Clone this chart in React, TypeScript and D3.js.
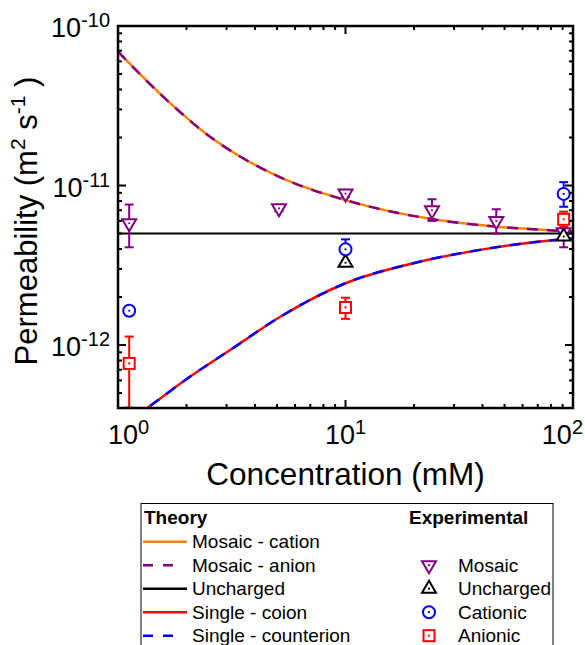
import * as d3 from "d3";
import React from "react";

// theory curves
const mosaicConc = [1, 1.64, 2.54, 3.44, 5.52, 10, 24.3, 46.2, 90.6, 100];
const mosaicTheory = [6.9e-11, 3.43e-11, 2.02e-11, 1.52e-11, 1.08e-11, 8.1e-12, 6.14e-12, 5.52e-12, 5.19e-12, 5.15e-12];
const singleConc = [1, 1.337, 2.07, 3.11, 5.15, 10, 19.9, 39, 90.6, 100];
const singleTheory = [2.96e-13, 4.0e-13, 6.32e-13, 9.3e-13, 1.5e-12, 2.44e-12, 3.26e-12, 3.95e-12, 4.6e-12, 4.65e-12];
const unchargedConc = [1, 100];
const unchargedTheory = [5e-12, 5e-12];

// experimental points
const mosaicExpConc = [1.12, 5.1, 10, 24, 46, 91];
const mosaicExp = [5.8e-12, 7.2e-12, 8.9e-12, 7.0e-12, 6.0e-12, 5.1e-12];
const mosaicLo = [4.1e-12, 6.9e-12, 8.5e-12, 6.0e-12, 5.0e-12, 4.1e-12];
const mosaicHi = [7.6e-12, 7.5e-12, 9.3e-12, 8.2e-12, 7.1e-12, 6.3e-12];

const unchargedExpConc = [10, 91];
const unchargedExp = [3.28e-12, 4.79e-12];
const unchargedLo = [3.2e-12, 4.7e-12];
const unchargedHi = [3.36e-12, 4.9e-12];

const cationicConc = [1.12, 10, 91];
const cationicExp = [1.64e-12, 3.98e-12, 8.86e-12];
const cationicLo = [1.6e-12, 3.8e-12, 7.36e-12];
const cationicHi = [1.7e-12, 4.6e-12, 1.05e-11];

const anionicConc = [1.12, 10, 91];
const anionicExp = [7.67e-13, 1.72e-12, 6.14e-12];
const anionicLo = [4.05e-13, 1.46e-12, 5.5e-12];
const anionicHi = [1.13e-12, 1.98e-12, 6.86e-12];

const xMajor = [1, 10, 100];
const xTickExp = ["0", "1", "2"];
const yMajor = [1e-10, 1e-11, 1e-12];
const yTickExp = ["-10", "-11", "-12"];

const theoryNames = ["Mosaic - cation", "Mosaic - anion", "Uncharged", "Single - coion", "Single - counterion"];
const theoryColors = ["#FF8000", "#800080", "#000000", "#FF0000", "#0000FF"];
const theoryDashed = [false, true, false, false, true];
const expNames = ["Mosaic", "Uncharged", "Cationic", "Anionic"];
const expColors = ["#800080", "#000000", "#0000FF", "#FF0000"];
const expShapes = ["down", "up", "circle", "square"];

const FONT = "'Liberation Sans', Arial, Helvetica, sans-serif";

function Marker({ shape, cx, cy, color }) {
  let el;
  if (shape === "down") {
    el = <polygon points={`${cx - 7},${cy - 4} ${cx + 7},${cy - 4} ${cx},${cy + 8}`} />;
  } else if (shape === "up") {
    el = <polygon points={`${cx - 7},${cy + 4} ${cx + 7},${cy + 4} ${cx},${cy - 8}`} />;
  } else if (shape === "circle") {
    el = <circle cx={cx} cy={cy} r={6} />;
  } else {
    el = <rect x={cx - 5.5} y={cy - 5.5} width={11} height={11} />;
  }
  return (
    <g stroke={color} strokeWidth={2} fill="white">
      {el}
      <circle cx={cx} cy={cy} r={1.1} fill={color} stroke="none" />
    </g>
  );
}

export default function App() {
  const left = 118, right = 573, top = 26, bottom = 408;
  const x = d3.scaleLog().domain([1, 100]).range([left, right]);
  const y = d3.scaleLog().domain([4.03e-13, 1e-10]).range([bottom, top]);

  const line = (cs, vs) =>
    d3.line().x((d) => x(d[0])).y((d) => y(d[1])).curve(d3.curveMonotoneX)(cs.map((c, i) => [c, vs[i]]));

  const isMajor = (v) => Math.abs(Math.log10(v) - Math.round(Math.log10(v))) < 1e-6;
  const xTicks = x.ticks();
  const yTicks = y.ticks();

  const series = [
    { conc: mosaicExpConc, val: mosaicExp, lo: mosaicLo, hi: mosaicHi, shape: "down", color: "#800080" },
    { conc: unchargedExpConc, val: unchargedExp, lo: unchargedLo, hi: unchargedHi, shape: "up", color: "#000000" },
    { conc: cationicConc, val: cationicExp, lo: cationicLo, hi: cationicHi, shape: "circle", color: "#0000FF" },
    { conc: anionicConc, val: anionicExp, lo: anionicLo, hi: anionicHi, shape: "square", color: "#FF0000" },
  ];

  const rowY = (i) => 541.7 + i * 23.5;

  return (
    <svg width={585} height={645} style={{ position: "absolute", left: 0, top: 0, background: "white" }} fontFamily={FONT}>
      <defs>
        <clipPath id="plotclip">
          <rect x={left} y={top} width={right - left} height={bottom - top} />
        </clipPath>
      </defs>

      <g clipPath="url(#plotclip)" fill="none" strokeWidth={2.5}>
        <path d={line(mosaicConc, mosaicTheory)} stroke="#FF8000" />
        <path d={line(mosaicConc, mosaicTheory)} stroke="#800080" strokeDasharray="11 9" />
        <path d={line(unchargedConc, unchargedTheory)} stroke="#000000" strokeWidth={2} />
        <path d={line(singleConc, singleTheory)} stroke="#FF0000" />
        <path d={line(singleConc, singleTheory)} stroke="#0000FF" strokeDasharray="11 9" />
      </g>

      {series.map((s, si) => (
        <g key={si}>
          {s.conc.map((c, i) => (
            <g key={i} stroke={s.color} strokeWidth={2}>
              <line x1={x(c)} x2={x(c)} y1={y(s.lo[i])} y2={y(s.hi[i])} />
              <line x1={x(c) - 4.5} x2={x(c) + 4.5} y1={y(s.lo[i])} y2={y(s.lo[i])} />
              <line x1={x(c) - 4.5} x2={x(c) + 4.5} y1={y(s.hi[i])} y2={y(s.hi[i])} />
            </g>
          ))}
          {s.conc.map((c, i) => (
            <Marker key={"m" + i} shape={s.shape} cx={x(c)} cy={y(s.val[i])} color={s.color} />
          ))}
        </g>
      ))}

      {/* ticks, all four sides, inward */}
      <g stroke="black" strokeWidth={2}>
        {xTicks.map((t, i) => {
          const len = isMajor(t) ? 8 : 4;
          return (
            <g key={i}>
              <line x1={x(t)} x2={x(t)} y1={bottom} y2={bottom - len} />
              <line x1={x(t)} x2={x(t)} y1={top} y2={top + len} />
            </g>
          );
        })}
        {yTicks.map((t, i) => {
          const len = isMajor(t) ? 8 : 4;
          return (
            <g key={i}>
              <line x1={left} x2={left + len} y1={y(t)} y2={y(t)} />
              <line x1={right} x2={right - len} y1={y(t)} y2={y(t)} />
            </g>
          );
        })}
      </g>
      <rect x={left} y={top} width={right - left} height={bottom - top} fill="none" stroke="black" strokeWidth={2.5} />

      {/* tick labels */}
      {xMajor.map((v, i) => {
        const anchor = i === 0 ? "start" : i === xMajor.length - 1 ? "end" : "middle";
        const xx = i === 0 ? x(v) - 10 : i === xMajor.length - 1 ? x(v) + 10 : x(v);
        return (
          <text key={i} x={xx} y={444} fontSize={27} textAnchor={anchor}>
            10<tspan dy={-10} fontSize={20}>{xTickExp[i]}</tspan>
          </text>
        );
      })}
      {yMajor.map((v, i) => (
        <text key={i} x={110} y={y(v) + 11} fontSize={27} textAnchor="end">
          10<tspan dy={-10} fontSize={20}>{yTickExp[i]}</tspan>
        </text>
      ))}

      {/* axis titles */}
      <text x={345.5} y={485} fontSize={31.5} textAnchor="middle">Concentration (mM)</text>
      <text transform="rotate(-90)" x={-221} y={37} fontSize={31} textAnchor="middle">
        Permeability (m<tspan dy={-12} fontSize={21}>2</tspan>
        <tspan dy={12}> s</tspan>
        <tspan dy={-12} fontSize={21}>-1</tspan>
        <tspan dy={12}> )</tspan>
      </text>

      {/* legend */}
      <rect x={141} y={503.5} width={412} height={170} fill="white" stroke="black" strokeWidth={1} />
      <text x={144} y={524} fontSize={19} fontWeight="bold">Theory</text>
      <text x={409} y={524} fontSize={19} fontWeight="bold">Experimental</text>
      {theoryNames.map((n, i) => (
        <g key={i}>
          <line
            x1={143}
            x2={theoryDashed[i] ? 176 : 187}
            y1={rowY(i)}
            y2={rowY(i)}
            stroke={theoryColors[i]}
            strokeWidth={2.5}
            strokeDasharray={theoryDashed[i] ? "10 10" : undefined}
          />
          <text x={192} y={rowY(i) + 6.5} fontSize={19}>{n}</text>
        </g>
      ))}
      {expNames.map((n, i) => (
        <g key={i}>
          <Marker shape={expShapes[i]} cx={429} cy={rowY(i + 1)} color={expColors[i]} />
          <text x={458} y={rowY(i + 1) + 6.5} fontSize={19}>{n}</text>
        </g>
      ))}
    </svg>
  );
}
